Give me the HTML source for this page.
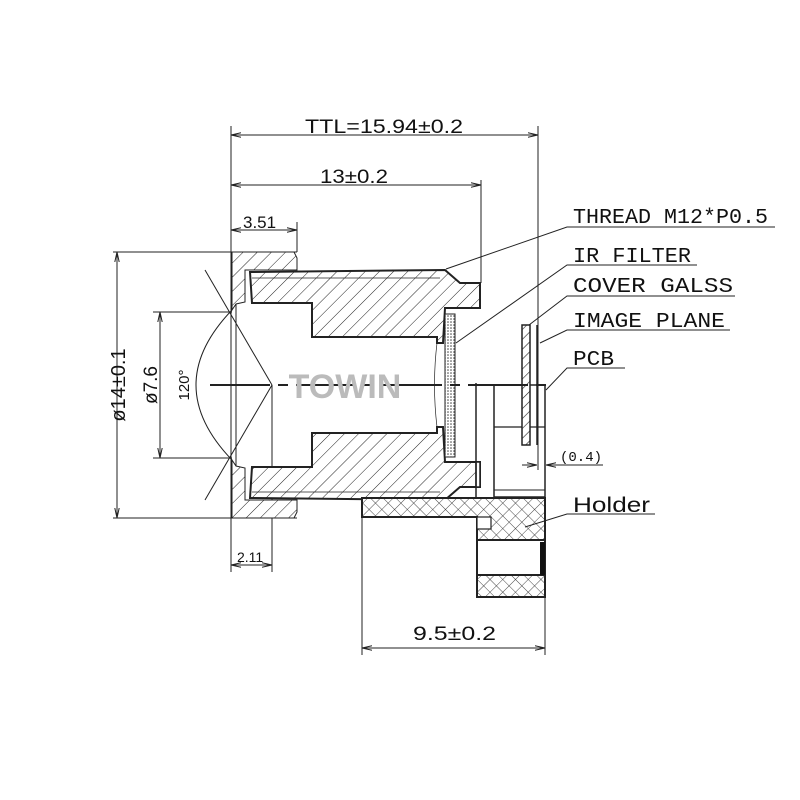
<!DOCTYPE html>
<html><head><meta charset="utf-8"><style>
html,body{margin:0;padding:0;background:#fff;}
svg{display:block;}
text{font-family:"Liberation Sans",sans-serif;fill:#111;}
text.m{font-family:"Liberation Mono",monospace;}
</style></head><body>
<svg width="800" height="800" viewBox="0 0 800 800" xmlns="http://www.w3.org/2000/svg">
<defs>
<pattern id="h" patternUnits="userSpaceOnUse" width="10" height="10" patternTransform="rotate(45)">
<rect width="10" height="10" fill="#fff"/><line x1="0" y1="0" x2="0" y2="10" stroke="#222" stroke-width="1"/></pattern>
<pattern id="hs" patternUnits="userSpaceOnUse" width="7" height="7" patternTransform="rotate(45)">
<rect width="7" height="7" fill="#fff"/><line x1="0" y1="0" x2="0" y2="7" stroke="#222" stroke-width="1.2"/></pattern>
<pattern id="x" patternUnits="userSpaceOnUse" width="9" height="9" patternTransform="rotate(45)">
<rect width="9" height="9" fill="#fff"/><line x1="0" y1="0" x2="0" y2="9" stroke="#333" stroke-width="0.9"/><line x1="0" y1="0" x2="9" y2="0" stroke="#333" stroke-width="0.9"/></pattern>
<pattern id="d" patternUnits="userSpaceOnUse" width="3" height="3">
<rect width="3" height="3" fill="#fff"/><circle cx="1" cy="1" r="0.8" fill="#444"/></pattern>
<marker id="a" viewBox="0 0 10 6" refX="10" refY="3" markerWidth="10" markerHeight="6" orient="auto-start-reverse" markerUnits="userSpaceOnUse"><path d="M0,0.8 L10,3 L0,5.2" fill="none" stroke="#222" stroke-width="1"/></marker>
</defs>
<g stroke="#222" fill="none" stroke-width="1">
<line x1="231" y1="126" x2="231" y2="572"/>
<line x1="538" y1="126" x2="538" y2="470"/>
<line x1="481" y1="180" x2="481" y2="283"/>
<line x1="297" y1="222" x2="297" y2="252"/>
<line x1="272" y1="385" x2="272" y2="572"/>
<line x1="113" y1="252" x2="297" y2="252"/>
<line x1="113" y1="518" x2="297" y2="518"/>
<line x1="153" y1="312" x2="232" y2="312"/>
<line x1="153" y1="458" x2="232" y2="458"/>
<line x1="362" y1="517" x2="362" y2="655"/>
<line x1="545" y1="597" x2="545" y2="655"/>
<line x1="231" y1="135" x2="538" y2="135" marker-start="url(#a)" marker-end="url(#a)"/>
<line x1="231" y1="185" x2="481" y2="185" marker-start="url(#a)" marker-end="url(#a)"/>
<line x1="231" y1="230" x2="297" y2="230" marker-start="url(#a)" marker-end="url(#a)"/>
<line x1="117" y1="252" x2="117" y2="518" marker-start="url(#a)" marker-end="url(#a)"/>
<line x1="160" y1="312" x2="160" y2="458" marker-start="url(#a)" marker-end="url(#a)"/>
<line x1="231" y1="565" x2="272" y2="565" marker-start="url(#a)" marker-end="url(#a)"/>
<line x1="362" y1="648" x2="545" y2="648" marker-start="url(#a)" marker-end="url(#a)"/>
<line x1="522" y1="465" x2="537" y2="465" marker-end="url(#a)"/>
<line x1="603" y1="465" x2="546" y2="465" marker-end="url(#a)"/>
<path d="M232,252 L294,252 L297,258 L297,270 L245,270 L245,302 L236,304 L232,310 Z" fill="url(#h)"/>
<path d="M232,518 L294,518 L297,512 L297,500 L245,500 L245,468 L236,466 L232,460 Z" fill="url(#h)"/>
<path d="M232,310 Q160,385 232,460" />
<line x1="205" y1="270" x2="272" y2="385"/>
<line x1="205" y1="500" x2="272" y2="385"/>
<line x1="236" y1="304" x2="236" y2="466"/>
<path d="M250,272 L445,270 L460,283 L480,283 L480,308 L445,308 L443,343 L437,343 L437,337 L312,337 L312,303 L252,303 Z" fill="url(#h)" stroke-width="2"/>
<path d="M250,498 L445,500 L460,487 L480,487 L480,462 L445,462 L443,427 L437,427 L437,433 L312,433 L312,467 L252,467 Z" fill="url(#h)" stroke-width="2"/>
<line x1="252" y1="278" x2="440" y2="278" stroke-width="0.7"/>
<line x1="252" y1="492" x2="440" y2="492" stroke-width="0.7"/>
<path d="M437,343 Q432,385 437,427" stroke-width="0.7"/>
<rect x="445" y="314" width="10" height="143" fill="url(#d)"/>
<rect x="476" y="462" width="4" height="25" fill="#fff" stroke-width="1.5"/>
<line x1="476" y1="383" x2="476" y2="498" stroke-width="1.5"/>
<rect x="494" y="385" width="51" height="112" stroke-width="1.5"/>
<line x1="494" y1="427" x2="545" y2="427" stroke-width="1.2"/>
<line x1="494" y1="490" x2="545" y2="490" stroke-width="1"/>
<rect x="522" y="325" width="8" height="120" fill="url(#hs)" stroke-width="1.5"/>
<line x1="537" y1="325" x2="537" y2="445" stroke-width="1.5"/>
<path d="M362,498 L545,498 L545,540 L477,540 L477,517 L362,517 Z" fill="url(#x)" stroke-width="2"/>
<rect x="477" y="517" width="14" height="12" fill="#fff" stroke-width="1.2"/>
<rect x="477" y="540" width="68" height="35" fill="#fff" stroke-width="2"/>
<rect x="477" y="575" width="68" height="22" fill="url(#x)" stroke-width="2"/>
<rect x="540" y="542" width="5" height="33" fill="#111" stroke="none"/>
<line x1="210" y1="385" x2="550" y2="385" stroke-width="2" stroke-dasharray="60,8,10,8"/>
<polyline points="775,227 567,227 446,269"/>
<polyline points="697,265 567,265 456,343"/>
<polyline points="735,296 567,296 529,325"/>
<polyline points="730,330 567,330 540,343"/>
<polyline points="625,368 567,368 546,390"/>
<polyline points="655,514 567,514 525,527"/>
</g>
<text x="345" y="398" font-size="34" font-weight="bold" style="fill:#bbb" text-anchor="middle">TOWIN</text>
<g font-size="19">
<text x="305" y="133" textLength="158" lengthAdjust="spacingAndGlyphs">TTL=15.94±0.2</text>
<text x="320" y="183" textLength="68" lengthAdjust="spacingAndGlyphs">13±0.2</text>
<text x="243" y="228" font-size="17">3.51</text>
<text x="237" y="562" font-size="14">2.11</text>
<text x="413" y="640" textLength="83" lengthAdjust="spacingAndGlyphs">9.5±0.2</text>
<text transform="translate(125,385) rotate(-90)" text-anchor="middle" font-size="20">ø14±0.1</text>
<text transform="translate(157,385) rotate(-90)" text-anchor="middle" font-size="19">ø7.6</text>
<text transform="translate(189,385) rotate(-90)" text-anchor="middle" font-size="15">120°</text>
</g>
<g font-size="21">
<text class="m" x="573" y="223" textLength="195" lengthAdjust="spacingAndGlyphs">THREAD M12*P0.5</text>
<text class="m" x="573" y="262" textLength="118" lengthAdjust="spacingAndGlyphs">IR FILTER</text>
<text class="m" x="573" y="292" textLength="160" lengthAdjust="spacingAndGlyphs">COVER GALSS</text>
<text class="m" x="573" y="327" textLength="152" lengthAdjust="spacingAndGlyphs">IMAGE PLANE</text>
<text class="m" x="573" y="365" textLength="41" lengthAdjust="spacingAndGlyphs">PCB</text>
<text x="573" y="512" textLength="77" lengthAdjust="spacingAndGlyphs">Holder</text>
<text class="m" x="560" y="461" font-size="14">(0.4)</text>
</g>
</svg>
</body></html>
